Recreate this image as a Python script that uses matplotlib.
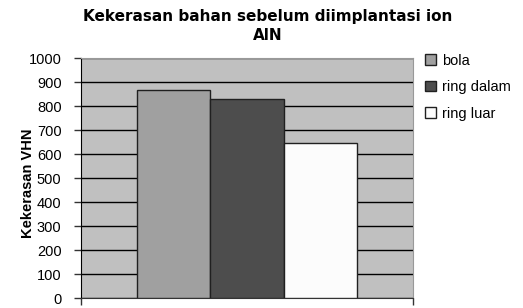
import numpy as np
import matplotlib
matplotlib.use("Agg")
import matplotlib.pyplot as plt

# data
seri = ["bola", "ring dalam", "ring luar"]
nilai = [865, 830, 645]
warna = ["#a0a0a0", "#4d4d4d", "#fcfcfc"]
yticks = [0, 100, 200, 300, 400, 500, 600, 700, 800, 900, 1000]

plt.rcParams['font.family'] = ['Liberation Sans', 'DejaVu Sans']

fig = plt.figure(figsize=(5.23, 3.08), dpi=100)
ax = fig.add_axes([81/523, 10/308, 332/523, 240/308])
ax.set_facecolor("#c0c0c0")

w = 0.2215
posisi = (np.arange(len(seri)) - 1) * w
for x, v, c, s in zip(posisi, nilai, warna, seri):
    ax.bar(x, v, width=w, color=c, edgecolor="#202020", linewidth=1.0, label=s, zorder=3)

ax.set_xlim(-0.5, 0.5)
ax.set_ylim(0, 1000)
ax.set_yticks(yticks)
ax.set_yticklabels([str(t) for t in yticks], fontsize=10.5)
ax.yaxis.grid(True, color="black", linewidth=1.0, zorder=1)
ax.set_axisbelow(True)
ax.set_xticks([-0.5, 0.5])
ax.set_xticklabels([])
ax.tick_params(axis="both", direction="out", length=5, width=1, color="#333333")
ax.tick_params(axis="y", pad=9)

ax.spines["left"].set_color("black")
ax.spines["bottom"].set_color("#333333")
ax.spines["top"].set_color("#999999")
ax.spines["right"].set_color("#999999")

ax.set_ylabel("Kekerasan VHN", fontsize=10.5, fontweight="bold")
ax.yaxis.set_label_coords(-0.139, 0.48)

fig.text(268/523, 1 - 16/308, "Kekerasan bahan sebelum diimplantasi ion",
         ha="center", va="center", fontsize=11, fontweight="bold",
         family=["DejaVu Sans"])
fig.text(268/523, 1 - 36/308, "AlN", ha="center", va="center",
         fontsize=11, fontweight="bold", family=["DejaVu Sans"])

leg = ax.legend(loc="upper left", bbox_to_anchor=(419/523, 1 - 48/308),
                bbox_transform=fig.transFigure, frameon=False, fontsize=10.5,
                handlelength=0.75, handleheight=0.75, handletextpad=0.4,
                labelspacing=0.85, borderaxespad=0)

fig.savefig("out.png", dpi=100)
